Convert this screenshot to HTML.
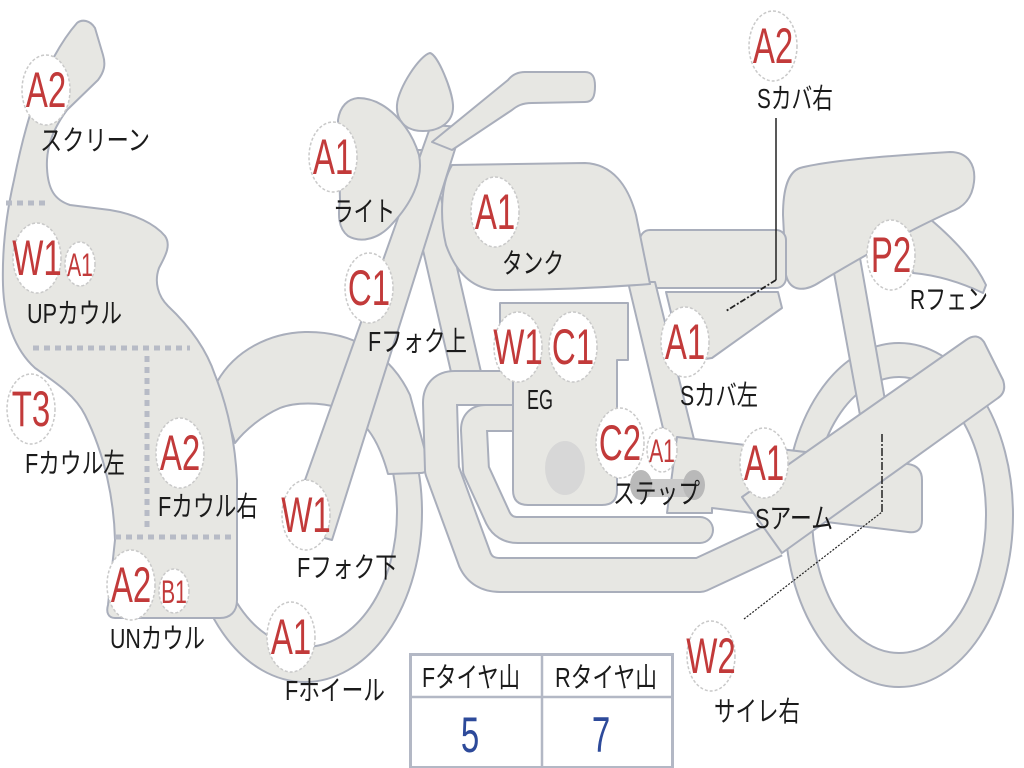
<!DOCTYPE html>
<html><head><meta charset="utf-8"><style>
html,body{margin:0;padding:0;background:#fff;}
svg{display:block;}
.p{fill:#e7e7e3;stroke:#a9aebb;stroke-width:2;stroke-linejoin:round;}
.lbl{font-family:"Liberation Sans","Noto Sans CJK JP",sans-serif;font-size:28px;fill:#1b1b1b;}
.ct{font-family:"Liberation Sans","Noto Sans CJK JP",sans-serif;fill:#c23a3a;text-anchor:middle;}
.cb{font-size:50px;}
.cs{font-size:32px;}
.circ{fill:#fff;stroke:#c9c9c9;stroke-width:1.5;stroke-dasharray:3 2;}
</style></head><body>
<svg width="1024" height="768" viewBox="0 0 1024 768" xmlns="http://www.w3.org/2000/svg">
<!-- rear wheel -->
<ellipse class="p" cx="899" cy="515" rx="114" ry="172"/>
<ellipse cx="899" cy="515" rx="87" ry="138" fill="#fff" stroke="#a9aebb" stroke-width="2"/>
<!-- front wheel -->
<ellipse class="p" cx="305" cy="512" rx="117" ry="170"/>
<ellipse cx="305" cy="512" rx="92" ry="135" fill="#fff" stroke="#a9aebb" stroke-width="2"/>
<!-- front fender -->
<path class="p" d="M217,382 C235,350 270,333 305,332 C350,331 390,352 410,395 L428,462 Q430,473 420,473 L388,474 C380,445 368,420 340,408 C320,402 295,402 280,408 C262,416 245,430 235,443 Z"/>
<!-- rear fender -->
<path class="p" d="M905,228 L930,219 C955,240 975,262 986,285 L983,293 C960,282 935,275 913,273 Z"/>
<!-- shock -->
<polygon class="p" points="832,262 860,258 892,440 866,448"/>
<!-- seat -->
<path class="p" d="M800,168 C830,160 900,155 950,152 C968,152 976,165 974,182 C972,200 962,208 950,212 C910,230 860,258 820,282 C805,292 790,292 786,275 L783,215 C783,190 788,172 800,168 Z"/>
<!-- downtube -->
<polygon class="p" points="400,150 430,150 484,385 454,385"/>
<!-- fork -->
<polygon class="p" points="431,125 462,127 332,540 288,528"/>
<!-- handlebar -->
<path class="p" d="M432,142 L508,80 C512,75 517,72 525,72 L585,72 C593,72 595,78 595,86 C595,96 593,102 585,102 L532,103 C522,103 517,106 512,110 L452,150 Z"/>
<!-- mirror -->
<path class="p" d="M430,53 C438,55 452,90 453,105 C454,122 440,131 423,131 C405,131 396,120 397,105 C398,88 420,55 430,53 Z"/>
<!-- headlight -->
<path class="p" d="M358,98 C385,98 410,125 419,155 C424,180 410,205 392,224 C380,238 362,244 348,236 C338,228 338,215 340,200 L338,120 C340,106 348,99 358,98 Z"/>
<!-- seat front rail -->
<rect class="p" x="640" y="230" width="146" height="58" rx="10"/>
<!-- rear frame tube -->
<polygon class="p" points="628,282 655,282 712,512 683,512"/>
<!-- side cover -->
<polygon class="p" points="666,292 778,292 782,308 712,358 683,362"/>
<!-- tank -->
<path class="p" d="M452,165 L585,163 C612,164 628,185 636,215 L650,284 C600,288 540,290 495,290 C470,288 455,270 446,245 C440,220 440,185 452,165 Z"/>
<!-- pipe 2 -->
<path d="M515,418 L486,418 Q474,418 474,430 L476,470 L498,518 Q504,530 518,530 L700,530" fill="none" stroke="#a9aebb" stroke-width="28" stroke-linejoin="round" stroke-linecap="round"/>
<path d="M515,418 L486,418 Q474,418 474,430 L476,470 L498,518 Q504,530 518,530 L700,530" fill="none" stroke="#e7e7e3" stroke-width="24" stroke-linejoin="round" stroke-linecap="round"/>
<!-- pipe 1 -->
<path d="M512,388 L455,388 Q440,388 440,403 L442,470 L475,560 Q482,575 500,575 L700,575 L775,540" fill="none" stroke="#a9aebb" stroke-width="36" stroke-linejoin="round"/>
<path d="M512,388 L455,388 Q440,388 440,403 L442,470 L475,560 Q482,575 500,575 L700,575 L775,540" fill="none" stroke="#e7e7e3" stroke-width="32" stroke-linejoin="round"/>
<!-- engine -->
<path class="p" d="M500,303 L628,303 L628,360 L617,360 L617,490 Q617,505 602,505 L528,505 Q513,505 513,490 L513,360 L500,360 Z"/>
<ellipse cx="565" cy="468" rx="20" ry="27" fill="#d7d7d7"/>
<!-- step plate + swingarm -->
<path class="p" d="M677,437 L908,464 Q922,466 922,480 L922,520 Q922,534 908,532 L712,508 L712,513 L667,513 Z"/>
<!-- muffler -->
<path class="p" d="M742,497 L966,340 Q977,332 984,342 L1003,380 Q1007,392 998,398 L782,553 Z"/>
<!-- step pegs -->
<rect x="640" y="479" width="54" height="18" fill="#c9c9c9"/>
<ellipse cx="641" cy="485" rx="11" ry="15" fill="#b9b9b9"/>
<ellipse cx="694" cy="485" rx="11" ry="15" fill="#b9b9b9"/>
<!-- cowl -->
<path class="p" d="M77,23 C82,19 90,20 95,28 L103,55 C106,65 104,72 98,80 L67,110 C52,130 46,150 47,168 C48,190 55,200 70,205 L110,210 C135,214 155,224 165,236 C172,246 164,258 159,268 C154,282 158,296 168,306 C185,322 205,345 215,375 C227,405 235,440 237,480 L237,600 C237,612 230,618 220,618 L115,618 C108,618 106,612 108,605 L115,540 C114,500 105,455 85,415 C75,395 55,382 35,368 C15,350 4,320 3,285 C2,250 6,215 14,180 C20,150 26,125 35,100 C45,70 62,40 77,23 Z"/>
<!-- cowl dotted lines -->
<g stroke="#b7bbc6" stroke-width="5" stroke-dasharray="6 5" fill="none">
<line x1="6" y1="203" x2="50" y2="203"/>
<line x1="33" y1="348" x2="190" y2="348"/>
<line x1="147" y1="356" x2="147" y2="530"/>
<line x1="115" y1="537" x2="236" y2="537"/>
</g>
<!-- connectors -->
<line x1="776" y1="118" x2="776" y2="280" stroke="#222" stroke-width="1.5"/>
<line x1="776" y1="280" x2="726" y2="311" stroke="#222" stroke-width="1.8" stroke-dasharray="6 2 2 2"/>
<line x1="744" y1="619" x2="882" y2="512" stroke="#222" stroke-width="1.2" stroke-dasharray="2 1.5"/>
<line x1="882" y1="512" x2="882" y2="432" stroke="#222" stroke-width="1.5" stroke-dasharray="8 2 2 2"/>
<!-- circles -->
<g>
<ellipse class="circ" cx="46" cy="90" rx="24" ry="35"/>
<ellipse class="circ" cx="333" cy="157" rx="24" ry="35"/>
<ellipse class="circ" cx="495" cy="212" rx="24" ry="35"/>
<ellipse class="circ" cx="369" cy="288" rx="24" ry="35"/>
<ellipse class="circ" cx="37" cy="258" rx="24" ry="35"/>
<ellipse class="circ" cx="31" cy="409" rx="24" ry="35"/>
<ellipse class="circ" cx="180" cy="453" rx="24" ry="35"/>
<ellipse class="circ" cx="306" cy="515" rx="24" ry="35"/>
<ellipse class="circ" cx="131" cy="585" rx="24" ry="35"/>
<ellipse class="circ" cx="291" cy="637" rx="24" ry="35"/>
<ellipse class="circ" cx="518" cy="347" rx="24" ry="35"/>
<ellipse class="circ" cx="573" cy="347" rx="24" ry="35"/>
<ellipse class="circ" cx="685" cy="342" rx="24" ry="35"/>
<ellipse class="circ" cx="620" cy="443" rx="24" ry="35"/>
<ellipse class="circ" cx="764" cy="463" rx="24" ry="35"/>
<ellipse class="circ" cx="773" cy="46" rx="24" ry="35"/>
<ellipse class="circ" cx="891" cy="255" rx="24" ry="35"/>
<ellipse class="circ" cx="711" cy="656" rx="24" ry="35"/>
<ellipse class="circ" cx="80" cy="264" rx="15" ry="22"/>
<ellipse class="circ" cx="174" cy="591" rx="15" ry="22"/>
<ellipse class="circ" cx="662" cy="450" rx="15" ry="22"/>
</g>
<g class="ct cb">
<g transform="translate(46,90) scale(0.66,1)"><text y="17">A2</text></g>
<g transform="translate(333,157) scale(0.66,1)"><text y="17">A1</text></g>
<g transform="translate(495,212) scale(0.66,1)"><text y="17">A1</text></g>
<g transform="translate(369,288) scale(0.66,1)"><text y="17">C1</text></g>
<g transform="translate(37,258) scale(0.66,1)"><text y="17">W1</text></g>
<g transform="translate(31,409) scale(0.66,1)"><text y="17">T3</text></g>
<g transform="translate(180,453) scale(0.66,1)"><text y="17">A2</text></g>
<g transform="translate(306,515) scale(0.66,1)"><text y="17">W1</text></g>
<g transform="translate(131,585) scale(0.66,1)"><text y="17">A2</text></g>
<g transform="translate(291,637) scale(0.66,1)"><text y="17">A1</text></g>
<g transform="translate(518,347) scale(0.66,1)"><text y="17">W1</text></g>
<g transform="translate(573,347) scale(0.66,1)"><text y="17">C1</text></g>
<g transform="translate(685,342) scale(0.66,1)"><text y="17">A1</text></g>
<g transform="translate(620,443) scale(0.66,1)"><text y="17">C2</text></g>
<g transform="translate(764,463) scale(0.66,1)"><text y="17">A1</text></g>
<g transform="translate(773,46) scale(0.66,1)"><text y="17">A2</text></g>
<g transform="translate(891,255) scale(0.66,1)"><text y="17">P2</text></g>
<g transform="translate(711,656) scale(0.66,1)"><text y="17">W2</text></g>
</g>
<g class="ct cs">
<g transform="translate(80,264) scale(0.66,1)"><text y="12">A1</text></g>
<g transform="translate(174,591) scale(0.66,1)"><text y="12">B1</text></g>
<g transform="translate(662,450) scale(0.66,1)"><text y="12">A1</text></g>
</g>
<!-- labels -->
<g class="lbl">
<text x="40" y="150" textLength="110" lengthAdjust="spacingAndGlyphs">スクリーン</text>
<text x="333" y="221" textLength="62" lengthAdjust="spacingAndGlyphs">ライト</text>
<text x="502" y="273" textLength="62" lengthAdjust="spacingAndGlyphs">タンク</text>
<text x="368" y="351" textLength="99" lengthAdjust="spacingAndGlyphs">Fフォク上</text>
<text x="27" y="323" textLength="95" lengthAdjust="spacingAndGlyphs">UPカウル</text>
<text x="25" y="473" textLength="100" lengthAdjust="spacingAndGlyphs">Fカウル左</text>
<text x="158" y="516" textLength="100" lengthAdjust="spacingAndGlyphs">Fカウル右</text>
<text x="297" y="577" textLength="100" lengthAdjust="spacingAndGlyphs">Fフォク下</text>
<text x="110" y="648" textLength="95" lengthAdjust="spacingAndGlyphs">UNカウル</text>
<text x="285" y="700" textLength="100" lengthAdjust="spacingAndGlyphs">Fホイール</text>
<text x="527" y="409" textLength="26" lengthAdjust="spacingAndGlyphs">EG</text>
<text x="680" y="405" textLength="78" lengthAdjust="spacingAndGlyphs">Sカバ左</text>
<text x="613" y="503" textLength="87" lengthAdjust="spacingAndGlyphs">ステップ</text>
<text x="755" y="528" textLength="78" lengthAdjust="spacingAndGlyphs">Sアーム</text>
<text x="757" y="108" textLength="76" lengthAdjust="spacingAndGlyphs">Sカバ右</text>
<text x="910" y="309" textLength="78" lengthAdjust="spacingAndGlyphs">Rフェン</text>
<text x="714" y="721" textLength="86" lengthAdjust="spacingAndGlyphs">サイレ右</text>
</g>
<!-- table -->
<rect x="410.5" y="654.5" width="262" height="113" fill="#fff" stroke="#b3b8c5" stroke-width="3"/>
<line x1="410" y1="697" x2="673" y2="697" stroke="#b3b8c5" stroke-width="2.5"/>
<line x1="542" y1="654" x2="542" y2="768" stroke="#b3b8c5" stroke-width="2.5"/>
<g class="lbl">
<text x="422" y="687" textLength="98" lengthAdjust="spacingAndGlyphs">Fタイヤ山</text>
<text x="555" y="687" textLength="102" lengthAdjust="spacingAndGlyphs">Rタイヤ山</text>
</g>
<g font-family="Liberation Sans, sans-serif" font-size="50" fill="#2d4a9a" text-anchor="middle">
<g transform="translate(470,752) scale(0.66,1)"><text>5</text></g>
<g transform="translate(601,752) scale(0.66,1)"><text>7</text></g>
</g>
</svg>
</body></html>
